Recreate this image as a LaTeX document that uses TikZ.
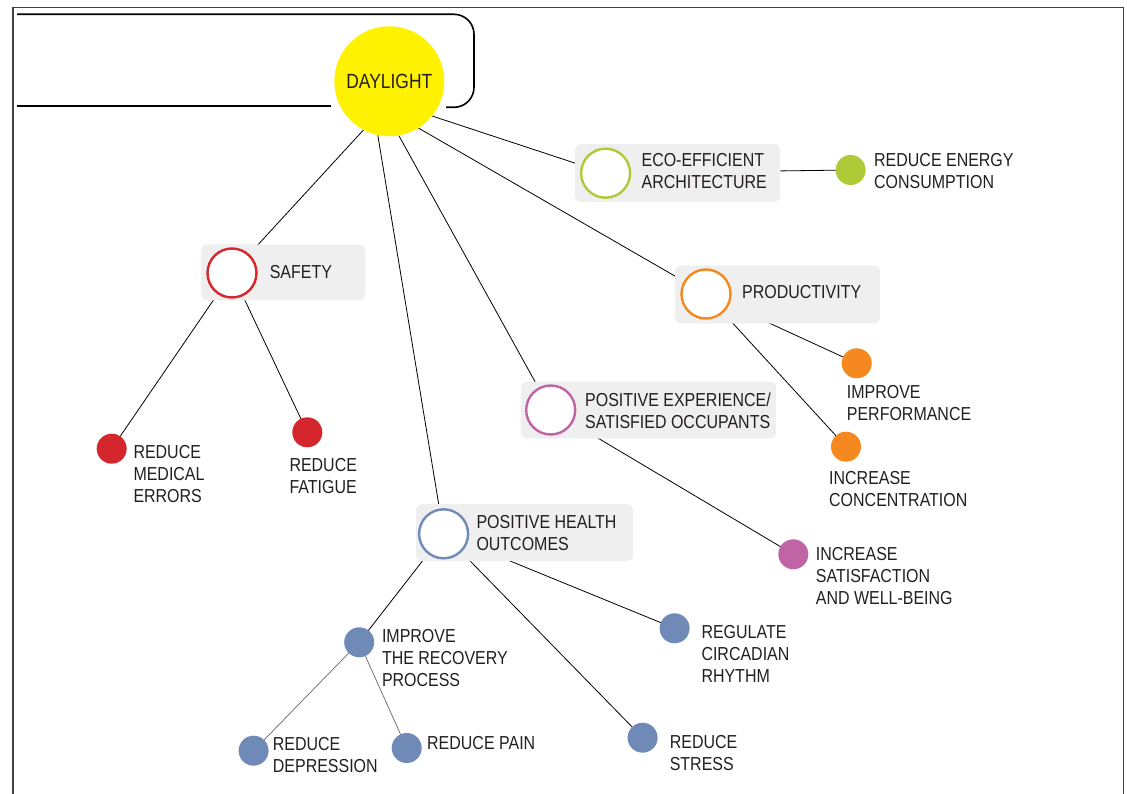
\documentclass[tikz,border=0pt]{standalone}
\usepackage{fontspec}
\setmainfont{Liberation Sans}[FakeStretch=0.85]
\usetikzlibrary{positioning}

\pgfdeclarelayer{background}
\pgfsetlayers{background,main}

\definecolor{sunyellow}{HTML}{FFF200}
\definecolor{ecogreen}{HTML}{AFCA37}
\definecolor{prodorange}{HTML}{F5891F}
\definecolor{safered}{HTML}{D5262D}
\definecolor{exppink}{HTML}{C164A6}
\definecolor{healthblue}{HTML}{708AB8}
\definecolor{boxgray}{HTML}{EFEFEF}
\definecolor{inkgray}{HTML}{231F20}

\tikzset{
  hub/.style={circle, fill=sunyellow, minimum size=110pt, inner sep=0pt,
    text=inkgray, font=\fontsize{20.5}{24}\selectfont},
  topicbox/.style={rounded corners=6pt, fill=boxgray, inner sep=0pt},
  ring/.style={circle, draw=#1, line width=2.4pt, fill=white, minimum size=49pt, inner sep=0pt},
  dot/.style={circle, fill=#1, minimum size=30pt, inner sep=0pt},
  lbl/.style={anchor=base west, align=left, inner sep=0pt, text=inkgray,
    font=\fontsize{18.8}{22}\selectfont},
  link/.style={line width=0.8pt, black},
  sublink/.style={line width=0.7pt, black!60}
}

\begin{document}
\begin{tikzpicture}[x=1pt, y=-1pt]
\useasboundingbox (0,0) rectangle (1127,794);

% Page frame and title bracket
\draw[line width=1.3pt, black!75] (13,794) -- (13,7.3) -- (1123.7,7.3) -- (1123.7,794);
\draw[line width=1.6pt, rounded corners=20pt] (17,14.3) -- (474,14.3) -- (474,107.3) -- (446,107.3);
\draw[line width=2pt] (17,106) -- (331,106);

% Centre
\node[hub] (daylight) at (389.3,81.3) {\raisebox{-2pt}{DAYLIGHT}};

% Topic boxes
\node[topicbox, minimum width=205pt, minimum height=58pt] (ecobox) at (677.5,173) {};
\node[topicbox, minimum width=205pt, minimum height=58pt] (prodbox) at (777.5,294.5) {};
\node[topicbox, minimum width=164pt, minimum height=56pt] (safebox) at (283,272.3) {};
\node[topicbox, minimum width=255pt, minimum height=57pt] (expbox) at (648.5,410) {};
\node[topicbox, minimum width=217pt, minimum height=57pt] (healthbox) at (524.5,532.7) {};

% Topic rings
\node[ring=ecogreen] (ecoc) at (605.6,173.2) {};
\node[ring=prodorange] (prodc) at (706,294) {};
\node[ring=safered] (safec) at (232,273) {};
\node[ring=exppink] (expc) at (550.7,410) {};
\node[ring=healthblue] (healthc) at (443.6,533.8) {};

% Topic labels (base = last line)
\node[lbl] (ecolbl) at (641.4,188.3) {ECO-EFFICIENT\\ARCHITECTURE};
\node[lbl] (prodlbl) at (742,299) {PRODUCTIVITY};
\node[lbl] (safelbl) at (269.6,278.3) {SAFETY};
\node[lbl] (explbl) at (585,428.3) {POSITIVE EXPERIENCE/\\SATISFIED OCCUPANTS};
\node[lbl] (healthlbl) at (476.3,550.7) {POSITIVE HEALTH\\OUTCOMES};

% Outcome dots
\node[dot=ecogreen] (energy) at (850.6,170) {};
\node[dot=prodorange] (perform) at (856.7,363.3) {};
\node[dot=prodorange] (concen) at (846,446.7) {};
\node[dot=safered] (medical) at (111.7,448.7) {};
\node[dot=safered] (fatigue) at (307.3,432.3) {};
\node[dot=exppink] (satisf) at (793.3,554.3) {};
\node[dot=healthblue] (recovery) at (359.2,642.3) {};
\node[dot=healthblue] (circadian) at (674.6,628.3) {};
\node[dot=healthblue] (stress) at (642.6,737.7) {};
\node[dot=healthblue] (depress) at (253.6,750.7) {};
\node[dot=healthblue] (pain) at (406.7,748) {};

% Outcome labels (base = last line)
\node[lbl] (energylbl) at (874,188.3) {REDUCE ENERGY\\CONSUMPTION};
\node[lbl] (perflbl) at (846.7,420) {IMPROVE\\PERFORMANCE};
\node[lbl] (conclbl) at (829,506) {INCREASE\\CONCENTRATION};
\node[lbl] (medlbl) at (133.3,502.7) {REDUCE\\MEDICAL\\ERRORS};
\node[lbl] (fatlbl) at (289.3,493.7) {REDUCE\\FATIGUE};
\node[lbl] (satlbl) at (815.7,604) {INCREASE\\SATISFACTION\\AND WELL-BEING};
\node[lbl] (recovlbl) at (381.8,686.7) {IMPROVE\\THE RECOVERY\\PROCESS};
\node[lbl] (circlbl) at (701.3,682.7) {REGULATE\\CIRCADIAN\\RHYTHM};
\node[lbl] (stresslbl) at (669.6,770) {REDUCE\\STRESS};
\node[lbl] (deprlbl) at (272.7,772.7) {REDUCE\\DEPRESSION};
\node[lbl] (painlbl) at (427,749) {REDUCE PAIN};

% Connectors, kept under the boxes and dots
\begin{pgfonlayer}{background}
\draw[link] (daylight.-118.6) -- (safec.center);
\draw[link] (daylight.-102.6) -- (healthc.center);
\draw[link] (daylight.-80.6) -- (expc.center);
\draw[link] (daylight.-58.9) -- (prodc.center);
\draw[link] (daylight.-39.2) -- (ecoc.center);
\draw[link] (ecoc.center) -- (energy.center);
\draw[link] (prodc.center) -- (perform.center);
\draw[link] (prodc.center) -- (concen.center);
\draw[link] (safec.center) -- (medical.center);
\draw[link] (safec.center) -- (fatigue.center);
\draw[link] (expc.center) -- (satisf.center);
\draw[link] (healthc.center) -- (recovery.center);
\draw[link] (healthc.center) -- (circadian.center);
\draw[link] (healthc.center) -- (stress.center);
\draw[sublink] (recovery.center) -- (depress.center);
\draw[sublink] (recovery.center) -- (pain.center);
\end{pgfonlayer}

\end{tikzpicture}
\end{document}
